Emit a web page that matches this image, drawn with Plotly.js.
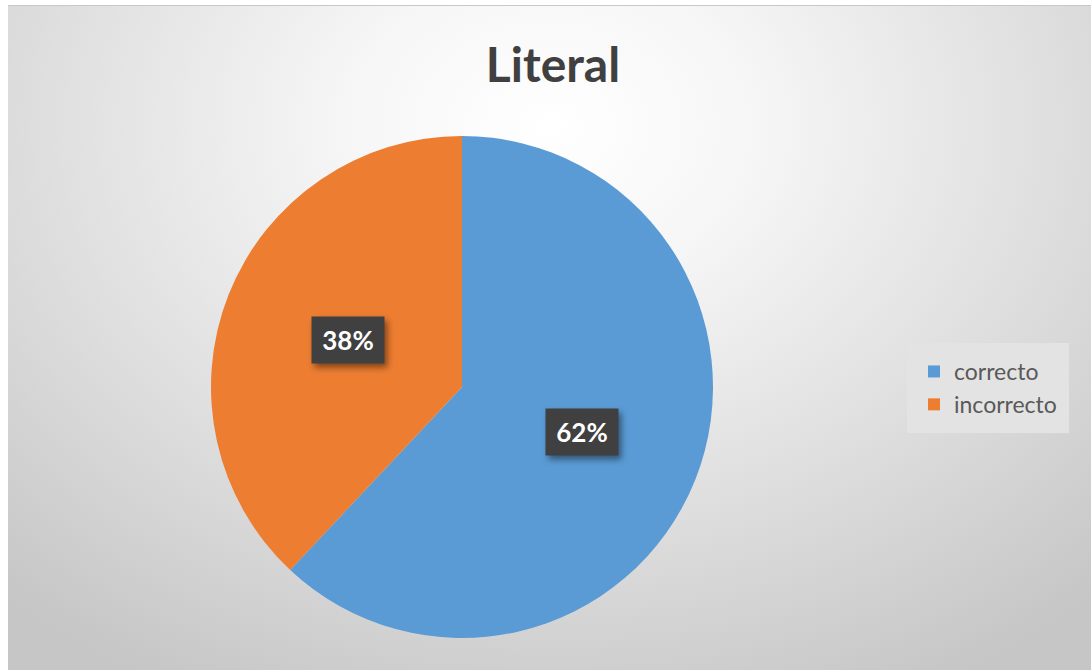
<!DOCTYPE html>
<html>
<head>
<meta charset="utf-8">
<script src="https://cdn.plot.ly/plotly-3.0.1.min.js"></script>
<style>
  html, body { margin: 0; padding: 0; background: #ffffff; }
  #bg {
    position: absolute; left: 8px; top: 5px; width: 1083px; height: 665px;
    background: radial-gradient(ellipse 75% 95% at 50% 18%, #ffffff 0%, #f6f6f6 25%, #e0e0e0 60%, #c6c6c6 100%);
    border-top: 1px solid #c8c8c8;
    box-sizing: border-box;
  }
  #chart { position: absolute; left: 0; top: 0; width: 1091px; height: 670px; }
  .annotation rect.bg { filter: drop-shadow(3px 4px 3px rgba(0,0,0,0.45)); }
</style>
</head>
<body>
<div id="bg"></div>
<div id="chart"></div>
<script>
// ---- data ----
var categories = ["correcto", "incorrecto"];
var values = [62, 38];
var sliceColors = ["#5B9BD5", "#ED7D31"];
var chartTitle = "Literal";

// ---- layout geometry (pixels) ----
var W = 1091, H = 670;
var cx = 462, cy = 387, r = 251;

var domainX = [(cx - r) / W, (cx + r) / W];
var domainY = [1 - (cy + r) / H, 1 - (cy - r) / H];

// data labels placed at half radius along each slice's mid-angle (clockwise from 12 o'clock)
var total = values.reduce(function (a, b) { return a + b; }, 0);
var annotations = [];
var acc = 0;
for (var i = 0; i < values.length; i++) {
  var frac = values[i] / total;
  var mid = (acc + frac / 2) * 2 * Math.PI;
  acc += frac;
  var px = cx + 0.5 * r * Math.sin(mid);
  var py = cy - 0.5 * r * Math.cos(mid);
  annotations.push({
    xref: "paper", yref: "paper",
    x: (px + 3) / W, y: 1 - (py - 1) / H,
    xanchor: "center", yanchor: "middle",
    text: "<b>" + Math.round(frac * 100) + "%</b>",
    showarrow: false,
    font: { family: "Lato, 'Open Sans', sans-serif", size: 26, color: "#ffffff" },
    bgcolor: "#404040",
    borderpad: 9,
    width: 54, height: 28
  });
}

var trace = {
  type: "pie",
  labels: categories,
  values: values,
  marker: { colors: sliceColors, line: { width: 0 } },
  sort: false,
  direction: "clockwise",
  rotation: 0,
  textinfo: "none",
  hoverinfo: "label+percent",
  domain: { x: domainX, y: domainY }
};

var layout = {
  width: W, height: H,
  margin: { l: 0, r: 0, t: 0, b: 0, pad: 0 },
  paper_bgcolor: "rgba(0,0,0,0)",
  plot_bgcolor: "rgba(0,0,0,0)",
  font: { family: "Lato, 'Open Sans', sans-serif", color: "#595959" },
  title: {
    text: "<b>" + chartTitle + "</b>",
    font: { family: "Lato, 'Open Sans', sans-serif", size: 48, color: "#404040" },
    x: 553 / W, xanchor: "center",
    y: 1 - 65 / H, yanchor: "middle"
  },
  showlegend: true,
  legend: {
    x: 907 / W, xanchor: "left",
    y: 1 - 388 / H, yanchor: "middle",
    bgcolor: "#e3e3e3",
    bordercolor: "#e3e3e3",
    borderwidth: 7,
    font: { family: "Lato, 'Open Sans', sans-serif", size: 23, color: "#595959" },
    itemwidth: 30,
    traceorder: "normal"
  },
  annotations: annotations
};

Plotly.newPlot("chart", [trace], layout, { displayModeBar: false, staticPlot: true });
</script>
</body>
</html>
